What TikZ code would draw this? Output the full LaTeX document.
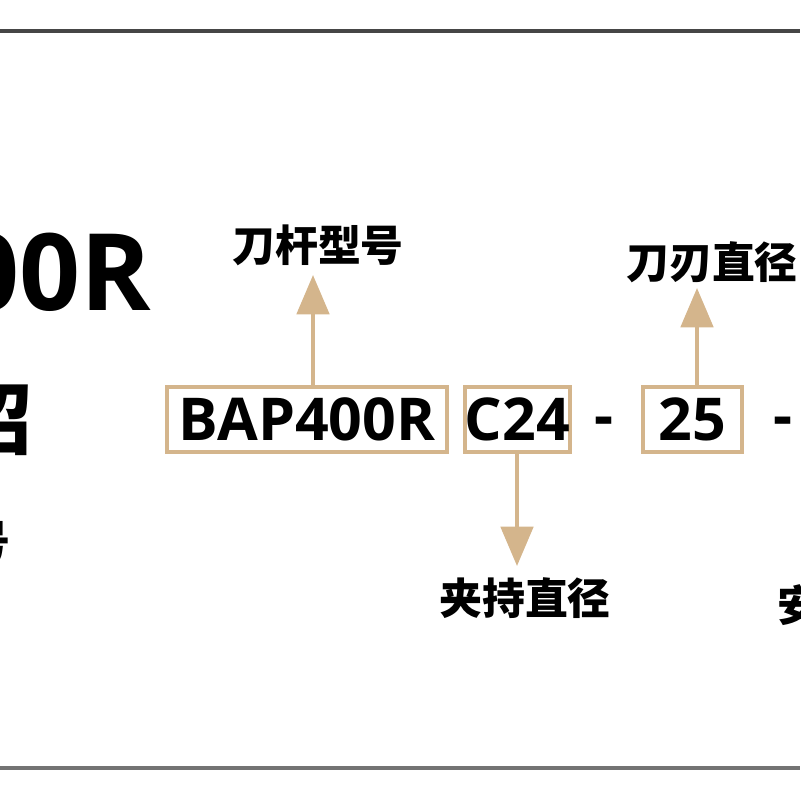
\documentclass[tikz,border=0pt]{standalone}
\usepackage{fontspec}
\setmainfont{Open Sans}
\newfontfamily\cjk{Noto Sans CJK SC}
\usetikzlibrary{arrows.meta,positioning}
\definecolor{tan}{RGB}{212,181,140}
\definecolor{rule}{RGB}{70,70,70}
\tikzset{
  codebox/.style={rectangle, draw=tan, line width=2.9pt, inner sep=0pt,
                  minimum height=1.625cm, font=\fontsize{42}{45}\selectfont\bfseries},
  codetxt/.style={inner sep=0pt, font=\fontsize{42}{45}\selectfont\bfseries},
  lbl/.style={inner sep=0pt, font=\cjk\fontsize{30.5}{34}\selectfont\bfseries},
  ar/.style={-{Triangle[length=28pt,width=23pt]}, draw=tan, line width=2.9pt},
}

\begin{document}
\begin{tikzpicture}[x=0.025cm,y=-0.025cm]
\useasboundingbox (0,0) rectangle (800,800);
\begin{scope}
\clip (0,0) rectangle (800,800);

% ===================== page frame =====================
\draw[rule, line width=2.8pt] (0,31) -- (800,31);
\draw[black!55, line width=2.2pt] (0,768) -- (800,768);

% ===================== cut-off title on the left =====================
\node[inner sep=0pt, anchor=base east, font=\fontsize{76}{80}\selectfont\bfseries]
  (title) at (151,310) {BAP400R};
\node[inner sep=0pt, anchor=east, font=\cjk\fontsize{56}{60}\selectfont\bfseries]
  (subt) at (33,418) {型号介绍};
\node[inner sep=0pt, anchor=east, font=\cjk\fontsize{32}{36}\selectfont\bfseries]
  (subl) at (11,542) {刀杆型号};

% ===================== code row =====================
\node[codebox, minimum width=7cm] (bap) at (307,419.5) {BAP400R};
\node[codebox, minimum width=2.625cm] (c24) at (517.5,419.5) {C24};
\node[codetxt] (d1) at (604,427) {-};
\node[codebox, minimum width=2.475cm] (dia) at (692.5,419.5) {25};
\node[codetxt] (d2) at (783,427) {-};

% ===================== labels and arrows =====================
\node[lbl] (l_bap) at (318,245) {刀杆型号};
\node[lbl] (l_dia) at (712,262) {刀刃直径};
\node[lbl] (l_c24) at (525,598) {夹持直径};
\node[lbl, anchor=west] (l_next) at (777,605) {安装};

\coordinate (tip1) at (313,275);
\coordinate (tip2) at (517,566);
\coordinate (tip3) at (697,288);
\draw[ar] (tip1 |- bap.north) -- (tip1);
\draw[ar] (tip2 |- c24.south) -- (tip2);
\draw[ar] (tip3 |- dia.north) -- (tip3);

\end{scope}
\end{tikzpicture}
\end{document}
